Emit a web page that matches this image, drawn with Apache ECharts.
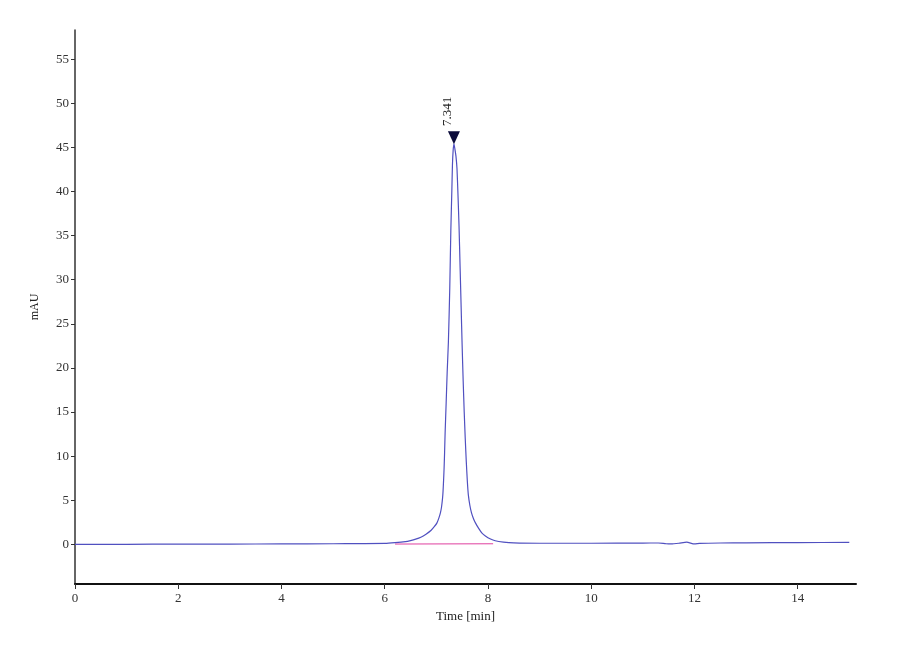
<!DOCTYPE html>
<html>
<head>
<meta charset="utf-8">
<script src="https://cdn.jsdelivr.net/npm/echarts@6/dist/echarts.min.js"></script>
<style>
  html, body { margin: 0; padding: 0; background: #ffffff; }
  #chart { width: 900px; height: 660px; }
</style>
</head>
<body>
<div id="chart"></div>
<script>
// retention time (min) and absorbance (mAU)
var times = [0, 1, 2, 3, 4, 5, 5.5, 6.0, 6.2, 6.4, 6.5, 6.6, 6.7, 6.8, 6.9, 6.96, 7.01, 7.05, 7.08, 7.10, 7.12, 7.13, 7.14, 7.15, 7.16, 7.17, 7.19, 7.21, 7.234, 7.26, 7.281, 7.30, 7.312, 7.325, 7.341,
  7.36, 7.38, 7.40, 7.42, 7.44, 7.46, 7.48, 7.50, 7.52, 7.54, 7.56, 7.58, 7.60, 7.62, 7.65, 7.68, 7.72, 7.76, 7.82, 7.88, 7.95, 8.05, 8.14, 8.3, 8.5, 9, 10, 11, 11.3, 11.45, 11.55, 11.7, 11.85, 12.0, 12.1, 12.5, 13, 14, 15];
var mau = [0.0, 0.0, 0.02, 0.03, 0.04, 0.06, 0.08, 0.1, 0.18, 0.3, 0.42, 0.58, 0.8, 1.15, 1.6, 2.0, 2.4, 3.0, 3.6, 4.2, 5.2, 6.0, 7.2, 8.6, 10.4, 12.6, 16.0, 19.5, 23.0, 29.0, 35.6, 40.0, 43.0, 44.6, 45.4,
  44.8, 44.0, 42.6, 39.5, 36.0, 31.5, 27.0, 22.5, 18.5, 15.0, 12.0, 9.4, 7.2, 5.6, 4.4, 3.6, 2.9, 2.4, 1.8, 1.3, 0.95, 0.6, 0.4, 0.25, 0.16, 0.12, 0.12, 0.14, 0.15, 0.06, 0.04, 0.12, 0.24, 0.04, 0.1, 0.15, 0.17, 0.19, 0.22];
var baselineTimes = [6.2, 8.1];
var baselineMau = [0.03, 0.06];
var peakTime = 7.341;
var peakMau = 45.4;
var peakLabel = '7.341';
var yTicks = [0, 5, 10, 15, 20, 25, 30, 35, 40, 45, 50, 55];
var xTicks = [0, 2, 4, 6, 8, 10, 12, 14];

var myChart = echarts.init(document.getElementById('chart'));

var traceData = times.map(function (t, i) { return [t, mau[i]]; });
var baseData = baselineTimes.map(function (t, i) { return [t, baselineMau[i]]; });

var labelFont = {
    fontFamily: 'Liberation Serif',
    fontSize: 13,
    color: '#333333'
};

var option = {
    backgroundColor: '#ffffff',
    animation: false,
    grid: { left: 75, right: 44, top: 30, bottom: 76 },
    xAxis: {
        type: 'value',
        min: 0,
        max: 15.13,
        name: 'Time [min]',
        nameLocation: 'middle',
        nameGap: 22,
        nameTextStyle: { fontFamily: 'Liberation Serif', fontSize: 13, color: '#222222' },
        axisLine: { onZero: false, lineStyle: { color: '#111111', width: 2 } },
        axisTick: { show: true, length: 5, customValues: xTicks, lineStyle: { color: '#333333' } },
        axisLabel: Object.assign({ customValues: xTicks, margin: 8 }, labelFont),
        splitLine: { show: false }
    },
    yAxis: {
        type: 'value',
        min: -4.5,
        max: 58.3,
        name: 'mAU',
        nameLocation: 'middle',
        nameGap: 34,
        nameTextStyle: { fontFamily: 'Liberation Serif', fontSize: 12, color: '#222222' },
        axisLine: { show: true, onZero: false, lineStyle: { color: '#333333', width: 1.5 } },
        axisTick: { show: true, length: 4, customValues: yTicks, lineStyle: { color: '#333333' } },
        axisLabel: Object.assign({ customValues: yTicks, margin: 6 }, labelFont),
        splitLine: { show: false }
    },
    series: [
        {
            name: 'baseline',
            type: 'line',
            data: baseData,
            symbol: 'none',
            lineStyle: { color: '#e040a0', width: 1 },
            z: 1
        },
        {
            name: 'trace',
            type: 'line',
            data: traceData,
            symbol: 'none',
            smooth: 0.2,
            lineStyle: { color: '#5050c0', width: 1.2 },
            z: 2
        },
        {
            name: 'peak',
            type: 'scatter',
            data: [[peakTime, peakMau]],
            symbol: 'triangle',
            symbolRotate: 180,
            symbolSize: [12, 13],
            symbolOffset: [0, -6],
            itemStyle: { color: '#0a0a3a', opacity: 1 },
            label: {
                show: true,
                formatter: peakLabel,
                position: 'top',
                rotate: 90,
                distance: 20,
                fontFamily: 'Liberation Serif',
                fontSize: 13,
                color: '#222222'
            },
            z: 3
        }
    ]
};
myChart.setOption(option);
window.addEventListener('resize', function () {
    myChart.resize();
});
</script>
</body>
</html>
